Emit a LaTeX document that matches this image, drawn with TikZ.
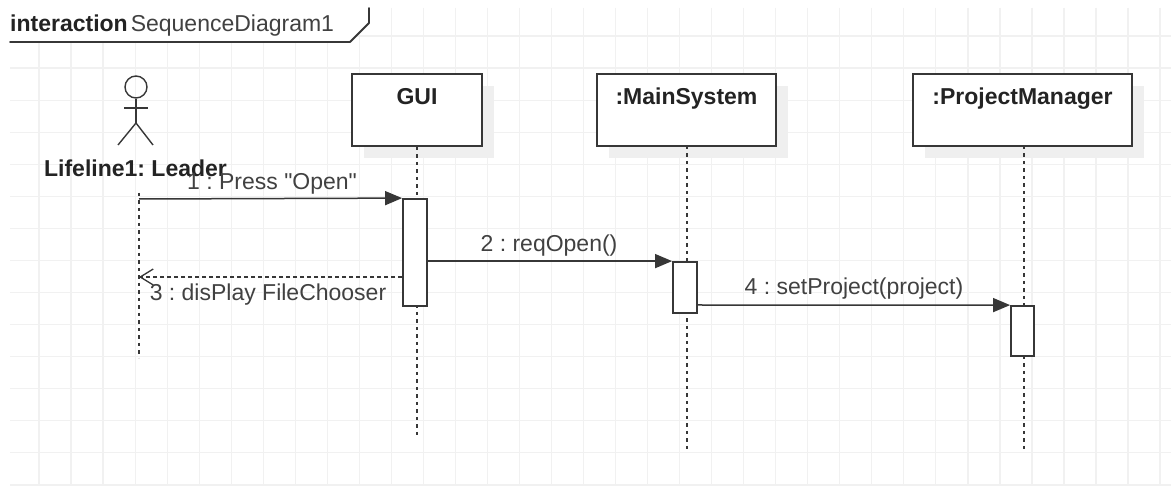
\documentclass[tikz,border=0pt]{standalone}
\usepackage{fontspec}
\setmainfont{Liberation Sans}[Ligatures=TeXOff]
\usetikzlibrary{arrows.meta}
\frenchspacing
\definecolor{gridc}{RGB}{241,241,241}
\definecolor{linec}{RGB}{55,55,55}
\definecolor{boldc}{RGB}{35,35,35}
\definecolor{labc}{RGB}{65,65,65}
\definecolor{shadowc}{RGB}{239,239,239}
\tikzset{
  gridline/.style={draw=gridc, line width=1.2pt},
  frameline/.style={draw=linec, line width=1.8pt, line join=round, line cap=round},
  objbox/.style={draw=linec, fill=white, line width=2pt, rectangle, inner sep=0pt},
  actbox/.style={draw=linec, fill=white, line width=1.8pt, rectangle, inner sep=0pt, minimum width=24pt},
  lifeline/.style={draw=linec, line width=1.6pt, dash pattern=on 3.5pt off 4pt},
  actorline/.style={draw=linec, line width=1.4pt},
  msg/.style={draw=linec, line width=1.5pt, -{Triangle[length=17pt,width=14pt]}},
  retmsg/.style={draw=linec, line width=1.3pt, dash pattern=on 4pt off 3pt, -{Straight Barb[length=13pt,width=16pt,line width=1.3pt]}},
  bigfont/.style={font=\fontsize{23}{26}\selectfont},
  objtext/.style={text=boldc, anchor=base, font=\fontsize{23}{26}\selectfont\bfseries},
  msgtext/.style={bigfont, text=labc, anchor=base},
}
\begin{document}
\begin{tikzpicture}[x=1pt,y=-1pt]
\useasboundingbox (0,0) rectangle (1171,486);
\fill[white] (0,0) rectangle (1171,486);
% grid
\foreach \k in {1,...,36} \draw[gridline] ({7+32.03*\k},8) -- ({7+32.03*\k},486);
\foreach \k in {1,...,15} \draw[gridline] (10,{3.9+32.07*\k}) -- (1171,{3.9+32.07*\k});
% frame label
\fill[white] (10,0) -- (369,0) -- (369,23) -- (350,42) -- (10,42) -- cycle;
\draw[frameline] (10,42) -- (350,42) -- (369,23) -- (369,8);
\node[bigfont, anchor=base west, inner sep=0pt] (title) at (10,32)
  {\textcolor{boldc}{\bfseries interaction}\hspace{3pt}\textcolor{labc}{SequenceDiagram1}};
% actor
\node[circle, draw=linec, line width=1.4pt, minimum size=22pt, inner sep=0pt] (head) at (136,87) {};
\coordinate (hip) at (136,123);
\coordinate (armL) at (124,108);
\coordinate (armR) at (148,108);
\coordinate (legL) at (118,145);
\coordinate (legR) at (153,145);
\draw[actorline] (head.south) -- (hip);
\draw[actorline] (armL) -- (armR);
\draw[actorline] (legL) -- (hip) -- (legR);
% shadows
\fill[shadowc] (364,86) rectangle (494,158);
\fill[shadowc] (609,86) rectangle (788,158);
\fill[shadowc] (925,86) rectangle (1144,158);
% lifelines
\coordinate (ltop) at (139,193);
\coordinate (lbot) at (139,358);
\draw[lifeline] (ltop) -- (lbot);
% object boxes
\node[objbox, minimum width=130pt, minimum height=72pt] (gui) at (417,110) {};
\node[objbox, minimum width=179pt, minimum height=72pt] (ms) at (686.5,110) {};
\node[objbox, minimum width=219pt, minimum height=72pt] (pm) at (1022.5,110) {};
\node[objtext] (guiT) at (417,105) {GUI};
\node[objtext] (msT) at (686.5,105) {:MainSystem};
\node[objtext] (pmT) at (1022.5,105) {:ProjectManager};
\coordinate (guiEnd) at (417,435);
\coordinate (msEnd) at (687,452);
\coordinate (pmEnd) at (1024,452);
\draw[lifeline] (gui.south) -- (guiEnd);
\draw[lifeline] (687,146) -- (msEnd);
\draw[lifeline] (1024,146) -- (pmEnd);
% activations
\node[actbox, minimum height=107pt] (a1) at (415,252.5) {};
\node[actbox, minimum height=51pt] (a2) at (685,287.5) {};
\node[actbox, minimum width=23pt, minimum height=50pt] (a3) at (1022.5,331) {};
% actor label
\node[objtext] (leaderT) at (135.5,177) {Lifeline1: Leader};
% messages
\coordinate (m1s) at (139,199);
\coordinate (m3e) at (139,277);
\draw[msg] (m1s) -- (a1.north west);
\draw[msg] (a1.east |- a2.north west) -- (a2.north west);
\draw[retmsg] (a1.west |- m3e) -- (m3e);
\draw[msg] (a2.east |- 0,305) -- (a3.north west);
\node[msgtext] (l1) at (272,190) {1 : Press "Open"};
\node[msgtext] (l2) at (549,252) {2 : reqOpen()};
\node[msgtext] (l3) at (268,301) {3 : disPlay FileChooser};
\node[msgtext] (l4) at (854,295) {4 : setProject(project)};
\end{tikzpicture}
\end{document}
